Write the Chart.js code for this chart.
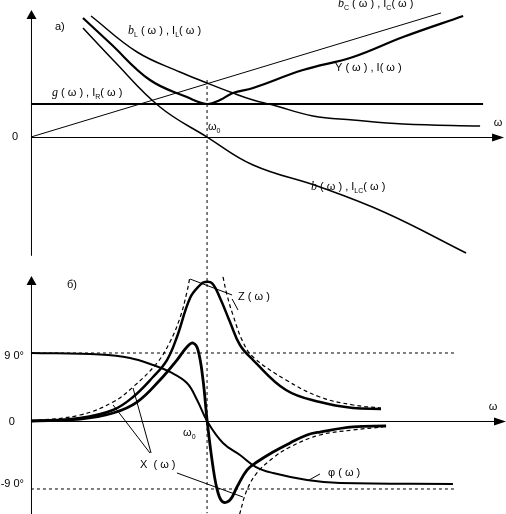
<!DOCTYPE html>
<html>
<head>
<meta charset="utf-8">
<script src="https://cdn.jsdelivr.net/npm/chart.js@4.4.0/dist/chart.umd.min.js"></script>
<style>
  html, body { margin: 0; padding: 0; background: #fff; }
  #wrap { width: 506px; height: 514px; }
</style>
</head>
<body>
<div id="wrap"><canvas id="chart" width="506" height="514"></canvas></div>
<script>
// ω is measured in units of ω0; panel а) in units of g, panel б) in degrees

// panel а)
const wBC = [0, 2.343];
const bC = [0, 3.76];
const wG = [0, 2.583];
const gLine = [1, 1];
const wBL = [0.343, 0.606, 0.851, 1.006, 1.154, 1.269, 1.383, 1.611, 1.84, 2.126, 2.566];
const bL = [3.667, 2.576, 1.97, 1.636, 1.333, 1.121, 0.97, 0.636, 0.515, 0.394, 0.333];
const wY = [0.297, 0.451, 0.68, 0.891, 1.006, 1.08, 1.154, 1.269, 1.554, 1.84, 2.126, 2.469];
const yAdm = [3.606, 2.848, 1.727, 1.212, 1.0, 1.121, 1.333, 1.485, 2.03, 2.424, 3.03, 3.667];
const wB = [0.297, 0.469, 0.737, 1.006, 1.269, 1.651, 2.029, 2.486];
const bTot = [3.303, 2.333, 0.909, 0, -0.848, -1.515, -2.303, -3.515];
const w0 = 1.006;

// panel б)
const wPhi = [0, 0.394, 0.566, 0.697, 0.794, 0.891, 0.949, 1.006, 1.097, 1.194, 1.286, 1.383, 1.577, 1.766, 2.411];
const phi = [90, 88, 83.4, 74.1, 64.9, 50.3, 27.8, 0, -29.1, -45, -60.9, -68.8, -78, -82, -83.4];
const wZ = [0, 0.28, 0.469, 0.583, 0.697, 0.777, 0.834, 0.909, 0.966, 0.994, 1.034, 1.08, 1.137, 1.194, 1.269, 1.457, 1.651, 1.84, 2.0];
const zSolid = [0, 4, 14.6, 31.8, 58.2, 80.7, 111.2, 162.8, 180, 184, 182.6, 162.8, 131, 100.6, 80.7, 41, 25.1, 17.2, 15.9];
const wZdL = [0, 0.28, 0.469, 0.583, 0.72, 0.794, 0.851, 0.891, 0.909];
const zDashL = [0, 7.9, 25.1, 45, 76.8, 104.6, 136.3, 170.7, 191.9];
const wZdR = [1.097, 1.12, 1.154, 1.211, 1.269, 1.457, 1.651, 1.84, 2.0];
const zDashR = [190.6, 166.8, 140.3, 104.6, 84.7, 54.3, 31.8, 21.2, 17.2];
const wX = [0, 0.28, 0.469, 0.606, 0.737, 0.834, 0.891, 0.926, 0.954, 0.983, 1.006, 1.04, 1.069, 1.097, 1.137, 1.177, 1.234, 1.291, 1.383, 1.48, 1.577, 1.651, 1.84, 2.029];
const xSolid = [0, 2.6, 10.6, 25.1, 54.3, 80.7, 97.9, 103.2, 94, 54.3, 1.3, -60.9, -95.3, -107.2, -104.6, -87.4, -64.9, -54.3, -41, -29.1, -18.5, -14.6, -7.9, -6.6];
const wXd = [1.171, 1.194, 1.234, 1.291, 1.383, 1.48, 1.651, 1.84, 2.011];
const xDash = [-141.6, -121.8, -91.3, -68.8, -49, -34.4, -18.5, -11.9, -7.9];
const wRef = [0, 2.423];
const degTicks = [90, 0, -90];

// leader lines [w1, v1, w2, v2] in panel б)
const leaders = [
  [0.909, 187.9, 1.149, 166.8],
  [1.149, 161.5, 1.183, 146.9],
  [0.68, -42.4, 0.469, 21.2],
  [0.686, -42.4, 0.583, 43.7],
  [0.834, -68.8, 1.211, -100.6],
  [1.651, -70.1, 1.589, -78.1]
];

// labels: [text, w, value, align, panel]
const labels = [
  ['а)', 0.137, 3.33, 'left', 'yT'],
  ['*b*_{L} ( ω ) , I_{L}( ω )', 0.554, 3.21, 'left', 'yT'],
  ['*g* ( ω ) , I_{R}( ω )', 0.12, 1.33, 'left', 'yT'],
  ['ω_{0}', 1.011, 0.30, 'left', 'yT'],
  ['0', -0.091, 0, 'center', 'yT'],
  ['*b*_{C} ( ω ) , I_{C}( ω )', 1.754, 4.03, 'left', 'yT'],
  ['Y ( ω ) , I( ω )', 1.737, 2.09, 'left', 'yT'],
  ['ω', 2.669, 0.42, 'center', 'yT'],
  ['*b* ( ω ) , I_{LC}( ω )', 1.6, -1.52, 'left', 'yT'],
  ['б)', 0.206, 180, 'left', 'yB'],
  ['9 0°', -0.04, 86, 'right', 'yB'],
  ['0', -0.109, -1.3, 'center', 'yB'],
  ['-9 0°', -0.04, -83.4, 'right', 'yB'],
  ['ω_{0}', 0.869, -15.9, 'left', 'yB'],
  ['ω', 2.64, 18.5, 'center', 'yB'],
  ['Z ( ω )', 1.183, 164, 'left', 'yB'],
  ['X  ( ω )', 0.623, -58, 'left', 'yB'],
  ['φ ( ω )', 1.697, -68.8, 'left', 'yB']
];

const pts = (xs, ys) => xs.map((x, i) => ({ x: x, y: ys[i] }));

function line(data, yAxisID, width, dash, smooth) {
  return {
    data: data,
    yAxisID: yAxisID,
    borderColor: '#000',
    borderWidth: width,
    borderDash: dash || [],
    pointRadius: 0,
    fill: false,
    tension: smooth ? 0.4 : 0
  };
}

const datasets = [
  line(pts(wBC, bC), 'yT', 1),
  line(pts(wG, gLine), 'yT', 2),
  line(pts(wBL, bL), 'yT', 1.5, null, true),
  line(pts(wY, yAdm), 'yT', 2.2, null, true),
  line(pts(wB, bTot), 'yT', 1.5, null, true),
  line([{ x: w0, y: 1.727 }, { x: w0, y: -11.4 }], 'yT', 1, [3, 3]),
  line(pts(wRef, [degTicks[0], degTicks[0]]), 'yB', 1, [3, 3]),
  line(pts(wRef, [degTicks[2], degTicks[2]]), 'yB', 1, [3, 3]),
  line(pts(wPhi, phi), 'yB', 2, null, true),
  line(pts(wZ, zSolid), 'yB', 2.5, null, true),
  line(pts(wZdL, zDashL), 'yB', 1.2, [4, 3], true),
  line(pts(wZdR, zDashR), 'yB', 1.2, [4, 3], true),
  line(pts(wX, xSolid), 'yB', 2.8, null, true),
  line(pts(wXd, xDash), 'yB', 1.2, [4, 3], true)
];
leaders.forEach(l => datasets.push(line([{ x: l[0], y: l[1] }, { x: l[2], y: l[3] }], 'yB', 1)));

function drawRich(ctx, str, x, y, align) {
  // *..* italic, _{..} subscript
  const parts = [];
  const re = /\*([^*]+)\*|_\{([^}]+)\}|([^*_]+)/g;
  let m;
  while ((m = re.exec(str))) {
    if (m[1]) parts.push({ t: m[1], f: 'italic 12px "Liberation Serif"', dy: 0 });
    else if (m[2]) parts.push({ t: m[2], f: '7px "Liberation Sans"', dy: 4 });
    else parts.push({ t: m[3], f: '11px "Liberation Sans"', dy: 0 });
  }
  let total = 0;
  parts.forEach(p => { ctx.font = p.f; p.w = ctx.measureText(p.t).width; total += p.w; });
  let cx = align === 'right' ? x - total : align === 'center' ? x - total / 2 : x;
  ctx.textBaseline = 'middle';
  ctx.textAlign = 'left';
  parts.forEach(p => {
    ctx.font = p.f;
    ctx.fillText(p.t, cx, y + p.dy);
    cx += p.w;
  });
}

const axesPlugin = {
  id: 'axes',
  beforeDatasetsDraw(chart) {
    const ctx = chart.ctx;
    const sx = chart.scales.x, yT = chart.scales.yT, yB = chart.scales.yB;
    const x0 = sx.getPixelForValue(0);
    ctx.save();
    ctx.strokeStyle = '#000';
    ctx.fillStyle = '#000';
    ctx.lineWidth = 1;
    const arrowUp = (x, y) => {
      ctx.beginPath(); ctx.moveTo(x, y); ctx.lineTo(x - 5, y + 9); ctx.lineTo(x + 5, y + 9); ctx.closePath(); ctx.fill();
    };
    const arrowRight = (x, y) => {
      ctx.beginPath(); ctx.moveTo(x, y); ctx.lineTo(x - 12, y - 4); ctx.lineTo(x - 12, y + 4); ctx.closePath(); ctx.fill();
    };
    // panel а)
    const tTop = yT.getPixelForValue(3.85), tBot = yT.getPixelForValue(-3.6), tZero = yT.getPixelForValue(0);
    ctx.beginPath(); ctx.moveTo(x0 + 0.5, tTop + 4); ctx.lineTo(x0 + 0.5, tBot); ctx.stroke();
    arrowUp(x0 + 0.5, tTop);
    const xEnd = sx.getPixelForValue(2.703);
    ctx.beginPath(); ctx.moveTo(x0, tZero + 0.5); ctx.lineTo(xEnd - 6, tZero + 0.5); ctx.stroke();
    arrowRight(xEnd, tZero + 0.5);
    // panel б)
    const bTop = yB.getPixelForValue(192), bBot = chart.chartArea.bottom, bZero = yB.getPixelForValue(0);
    ctx.beginPath(); ctx.moveTo(x0 + 0.5, bTop + 4); ctx.lineTo(x0 + 0.5, bBot); ctx.stroke();
    arrowUp(x0 + 0.5, bTop);
    const xEnd2 = sx.getPixelForValue(2.714);
    ctx.beginPath(); ctx.moveTo(x0, bZero + 0.5); ctx.lineTo(xEnd2 - 6, bZero + 0.5); ctx.stroke();
    arrowRight(xEnd2, bZero + 0.5);
    ctx.restore();
  },
  afterDatasetsDraw(chart) {
    const ctx = chart.ctx;
    ctx.save();
    ctx.fillStyle = '#000';
    labels.forEach(l => {
      const px = chart.scales.x.getPixelForValue(l[1]);
      const py = chart.scales[l[4]].getPixelForValue(l[2]);
      drawRich(ctx, l[0], px, py, l[3]);
    });
    ctx.restore();
  }
};

new Chart(document.getElementById('chart').getContext('2d'), {
  type: 'line',
  data: { datasets: datasets },
  options: {
    responsive: false,
    animation: false,
    devicePixelRatio: 1,
    layout: { padding: 0 },
    spanGaps: false,
    plugins: { legend: { display: false }, tooltip: { enabled: false } },
    scales: {
      x: { type: 'linear', min: -0.177, max: 2.714, display: false },
      yT: { type: 'linear', min: -11.424, max: 4.152, display: false },
      yB: { type: 'linear', min: -123.09, max: 557.21, display: false }
    }
  },
  plugins: [axesPlugin]
});
</script>
</body>
</html>
